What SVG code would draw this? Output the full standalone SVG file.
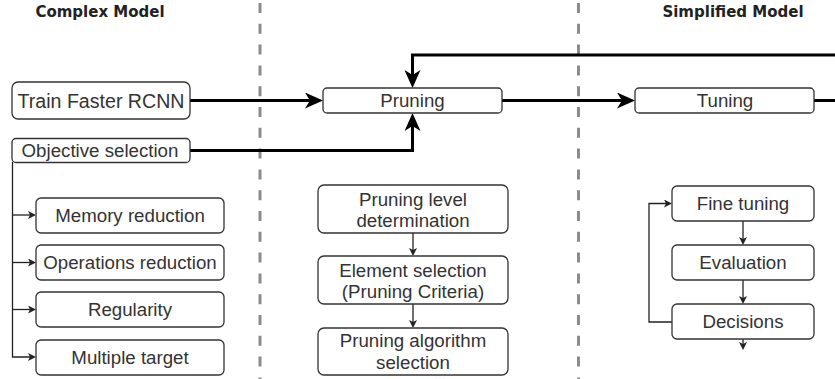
<svg xmlns="http://www.w3.org/2000/svg" width="835" height="379" viewBox="0 0 835 379">
<style>
.bg{fill:#ffffff}
.box{fill:#ffffff;stroke:#333333;stroke-width:1.3}
.t{font-family:"Liberation Sans",Arial,sans-serif;font-size:18.7px;fill:#333333;text-anchor:middle}
.big{font-size:19.6px}
.h{font-family:"DejaVu Sans",sans-serif;font-weight:bold;font-size:15px;fill:#222222;text-anchor:middle}
.sep{stroke:#8c8c8c;stroke-width:3;stroke-dasharray:10 10.8;fill:none}
.thick{fill:none;stroke:#000000;stroke-width:3}
.thin{fill:none;stroke:#222222;stroke-width:1.3}
</style>
<defs>
<marker id="ah" markerUnits="userSpaceOnUse" viewBox="0 0 18 16" markerWidth="18" markerHeight="16" refX="5" refY="8" orient="auto">
<path d="M0,0 L18,8 L0,16 L5,8 Z" fill="#000000"/>
</marker>
<marker id="as" markerUnits="userSpaceOnUse" viewBox="0 0 8 8" markerWidth="8" markerHeight="8" refX="2" refY="4" orient="auto">
<path d="M0,0 L8,4 L0,8 L2,4 Z" fill="#222222"/>
</marker>
</defs>
<rect class="bg" x="0" y="0" width="835" height="379"/>
<g id="separators">
<line class="sep" x1="260" y1="3" x2="260" y2="379"/>
<line class="sep" x1="578.5" y1="3" x2="578.5" y2="379"/>
</g>
<g id="titles">
<text class="h" x="100" y="17">Complex Model</text>
<text class="h" x="733" y="17">Simplified Model</text>
</g>
<g id="connectors">
<path class="thick" d="M190,100.5 H310" marker-end="url(#ah)"/>
<path class="thick" d="M190,150.5 H412.5 V126" marker-end="url(#ah)"/>
<path class="thick" d="M835,55 H412.5 V75" marker-end="url(#ah)"/>
<path class="thick" d="M502,100.5 H622" marker-end="url(#ah)"/>
<path class="thick" d="M814,100.5 H835"/>
<path class="thin" d="M12.5,162 V357 H30" marker-end="url(#as)"/>
<path class="thin" d="M12.5,215 H30" marker-end="url(#as)"/>
<path class="thin" d="M12.5,262.5 H30" marker-end="url(#as)"/>
<path class="thin" d="M12.5,309.5 H30" marker-end="url(#as)"/>
<path class="thin" d="M413,233 V250" marker-end="url(#as)"/>
<path class="thin" d="M413,304 V322" marker-end="url(#as)"/>
<path class="thin" d="M743,221 V239" marker-end="url(#as)"/>
<path class="thin" d="M743,280 V298" marker-end="url(#as)"/>
<path class="thin" d="M743,339 V344" marker-end="url(#as)"/>
<path class="thin" d="M672,322 H649 V203.5 H666" marker-end="url(#as)"/>
</g>
<g id="train">
<rect class="box" x="12" y="82" width="178" height="37" rx="6"/>
<text class="t big" x="101" y="107.5">Train Faster RCNN</text>
</g>
<g id="objective">
<rect class="box" x="12" y="138.5" width="178" height="24" rx="4"/>
<text class="t" x="100" y="157">Objective selection</text>
</g>
<g id="memory">
<rect class="box" x="36" y="198" width="188" height="35" rx="5"/>
<text class="t" x="130" y="222">Memory reduction</text>
</g>
<g id="operations">
<rect class="box" x="36" y="245" width="188" height="35" rx="5"/>
<text class="t" x="130" y="269">Operations reduction</text>
</g>
<g id="regularity">
<rect class="box" x="36" y="292" width="188" height="35" rx="5"/>
<text class="t" x="130" y="316">Regularity</text>
</g>
<g id="multiple">
<rect class="box" x="36" y="340" width="188" height="35" rx="5"/>
<text class="t" x="130" y="364">Multiple target</text>
</g>
<g id="pruning">
<rect class="box" x="323" y="88" width="179" height="25" rx="4"/>
<text class="t" x="412.5" y="107">Pruning</text>
</g>
<g id="tuning">
<rect class="box" x="635" y="88" width="179" height="25" rx="4"/>
<text class="t" x="725" y="107">Tuning</text>
</g>
<g id="level">
<rect class="box" x="318" y="185" width="190" height="48" rx="6"/>
<text class="t" x="413" y="205.5">Pruning level</text>
<text class="t" x="413" y="227">determination</text>
</g>
<g id="element">
<rect class="box" x="318" y="256" width="190" height="48" rx="6"/>
<text class="t" x="413" y="276.5">Element selection</text>
<text class="t" x="413" y="298">(Pruning Criteria)</text>
</g>
<g id="algorithm">
<rect class="box" x="318" y="328" width="190" height="47" rx="6"/>
<text class="t" x="413" y="347">Pruning algorithm</text>
<text class="t" x="413" y="368.5">selection</text>
</g>
<g id="finetuning">
<rect class="box" x="672" y="186" width="142" height="35" rx="5"/>
<text class="t" x="743" y="210">Fine tuning</text>
</g>
<g id="evaluation">
<rect class="box" x="672" y="245" width="142" height="35" rx="5"/>
<text class="t" x="743" y="269">Evaluation</text>
</g>
<g id="decisions">
<rect class="box" x="672" y="304" width="142" height="35" rx="5"/>
<text class="t" x="743" y="328">Decisions</text>
</g>
</svg>
